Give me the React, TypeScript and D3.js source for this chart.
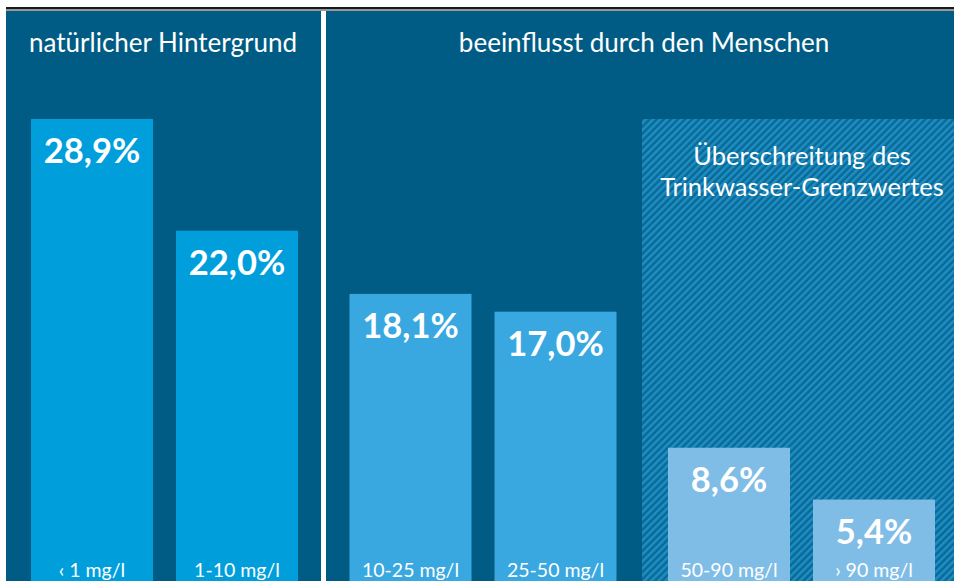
import React from 'react';
import * as d3 from 'd3';

// Nitrat im Grundwasser – Anteil der Messstellen je Konzentrationsklasse
const groups = ["natural", "human", "limit"];
const classes = ["‹ 1 mg/l", "1-10 mg/l", "10-25 mg/l", "25-50 mg/l", "50-90 mg/l", "› 90 mg/l"];
const classGroup = ["natural", "natural", "human", "human", "limit", "limit"];
const values = [28.9, 22.0, 18.1, 17.0, 8.6, 5.4];
const valueLabels = ["28,9%", "22,0%", "18,1%", "17,0%", "8,6%", "5,4%"];
const panelTitles = ["natürlicher Hintergrund", "beeinflusst durch den Menschen"];
const limitTitle = ["Überschreitung des", "Trinkwasser-Grenzwertes"];

const width = 954;
const height = 581;
const font = "Lato, 'Noto Sans', sans-serif";

const barColors: Record<string, string> = {
    natural: "#009FDB",
    human: "#3AA8E0",
    limit: "#7FBDE7",
};

export default function App() {
    const xGroup = d3.scaleBand()
        .domain(groups)
        .range([31, 935])
        .paddingInner(0.1617);
    const xInner = d3.scaleBand<number>()
        .domain([0, 1])
        .range([0, xGroup.bandwidth()])
        .paddingInner(0.1586);
    const y = d3.scaleLinear()
        .domain([0, 28.9])
        .range([587, 119]);

    const barX = (i: number) => (xGroup(classGroup[i]) as number) + (xInner(i % 2) as number);
    const bw = xInner.bandwidth();

    const hatchX = 642;

    return (
        <svg width={width} height={height} style={{position: "absolute", left: 0, top: 0, display: "block"}}>
            <defs>
                <pattern id="hatch" patternUnits="userSpaceOnUse" width="5" height="5" patternTransform="rotate(45)">
                    <rect width="5" height="5" fill="#0A6A96" />
                    <rect width="2.5" height="5" fill="#1E8EC4" />
                </pattern>
            </defs>
            <rect x={0} y={0} width={width} height={height} fill="#fff" />
            {/* top rule */}
            <rect x={6} y={7} width={width - 6} height={2.5} fill="#1a1a1a" />
            <rect x={6} y={9.5} width={width - 6} height={1.5} fill="#9a9a9a" />
            {/* panels */}
            <rect x={6} y={11} width={315} height={height - 11} fill="#005C84" />
            <rect x={326} y={11} width={width - 326} height={height - 11} fill="#005C84" />
            <rect x={hatchX} y={y(28.9)} width={width - hatchX} height={height - y(28.9)} fill="url(#hatch)" />

            <text x={163} y={52} fill="#fff" fontFamily={font} fontSize={26} textAnchor="middle">{panelTitles[0]}</text>
            <text x={644} y={52} fill="#fff" fontFamily={font} fontSize={26} textAnchor="middle">{panelTitles[1]}</text>
            {limitTitle.map((t, i) => (
                <text key={t} x={(hatchX + width) / 2 + 4} y={165 + i * 31} fill="#fff" fontFamily={font} fontSize={25.5} textAnchor="middle">{t}</text>
            ))}

            {values.map((v, i) => (
                <g key={classes[i]}>
                    <rect x={barX(i)} y={y(v)} width={bw} height={height - y(v)} fill={barColors[classGroup[i]]} />
                    <text x={barX(i) + bw / 2} y={y(v) + 44} fill="#fff" fontFamily={font} fontWeight="bold" fontSize={34.5} textAnchor="middle">{valueLabels[i]}</text>
                    <text x={barX(i) + bw / 2} y={577} fill="#fff" fontFamily={font} fontSize={19.5} textAnchor="middle">{classes[i]}</text>
                </g>
            ))}
        </svg>
    );
}
